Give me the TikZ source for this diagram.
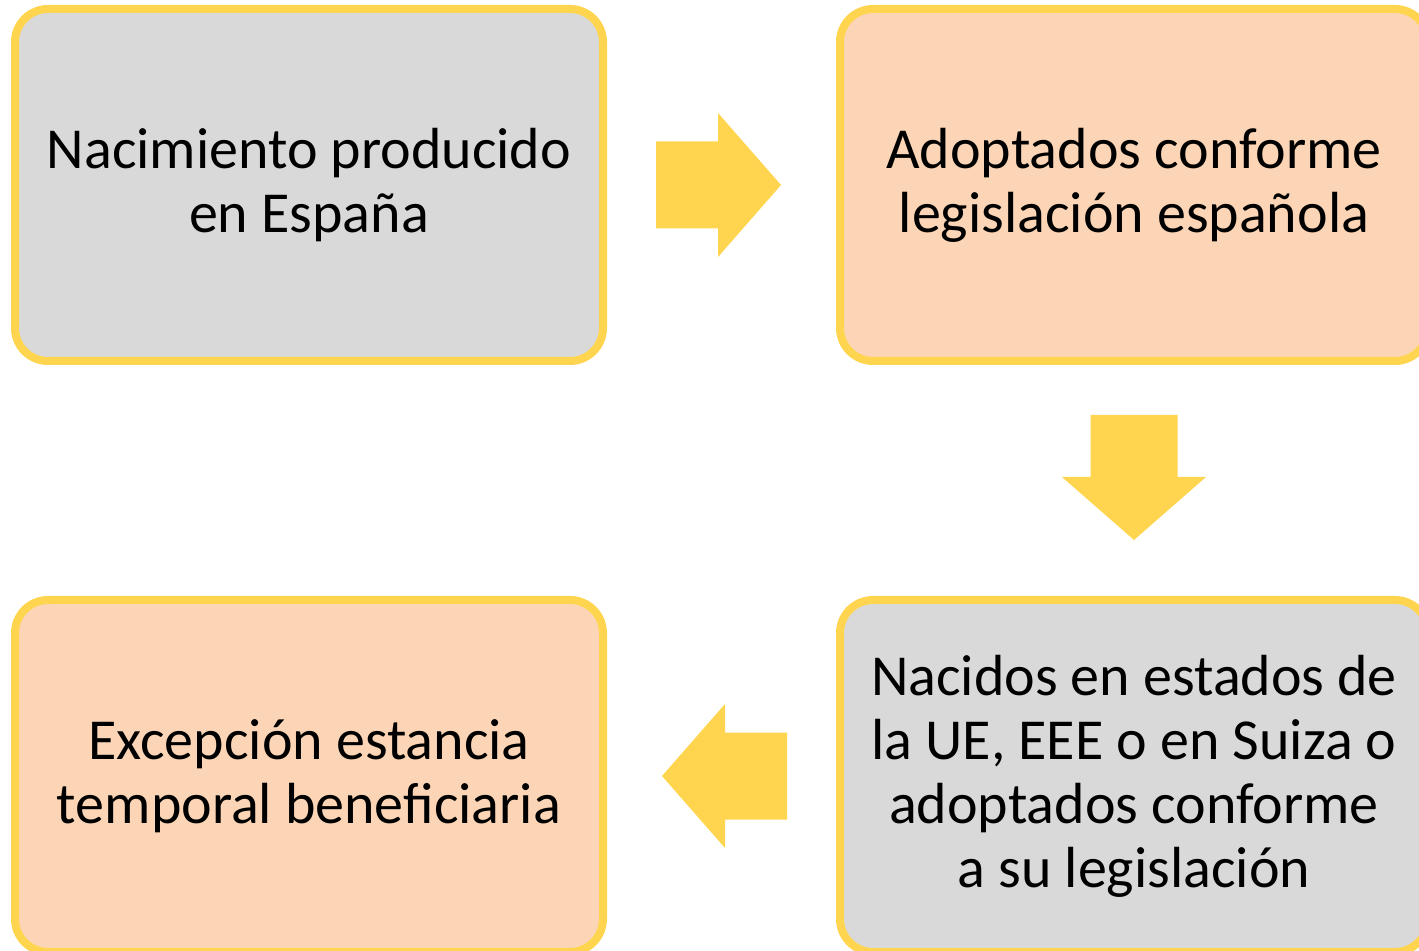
\documentclass[tikz,border=0pt]{standalone}
\usepackage{fontspec}
\setmainfont{Carlito}
\usetikzlibrary{positioning,calc}
\definecolor{boxborder}{HTML}{FFD54F}
\definecolor{boxgray}{HTML}{D9D9D9}
\definecolor{boxpeach}{HTML}{FBD5B5}
\tikzset{
  stagebox/.style={rectangle, rounded corners=16.5pt, draw=boxborder, line width=4pt,
    minimum width=294pt, minimum height=176pt, outer sep=0pt, align=center,
    font=\fontsize{29}{32}\selectfont},
  graybox/.style={stagebox, fill=boxgray},
  peachbox/.style={stagebox, fill=boxpeach},
  blockarrow/.pic={\fill[boxborder] (-65.5,-43.5) -- (-3.5,-43.5) -- (-3.5,-72) -- (59.5,0)
    -- (-3.5,72) -- (-3.5,43.5) -- (-65.5,43.5) -- cycle;}
}
\begin{document}
\begin{tikzpicture}[x=0.5pt, y=-0.5pt, node distance=119.5pt and 118.5pt]
        \clip (0,0) rectangle (1419,951);
        \node[graybox] (nac) at (309,185) {Nacimiento producido\\en España};
        \node[peachbox, right=of nac] (adop) {Adoptados conforme\\legislación española};
        \node[graybox, below=of adop] (ue) {Nacidos en estados de\\la UE, EEE o en Suiza o\\adoptados conforme\\a su legislación};
        \node[peachbox, left=of ue] (exc) {Excepción estancia\\temporal beneficiaria};

        % block arrows between the boxes
        \pic at ($(nac.east)!0.5!(adop.west)$) {blockarrow};
        \pic[rotate=-90] at ($(adop.south)!0.5!(ue.north)$) {blockarrow};
        \pic[rotate=180] at ($(ue.west)!0.5!(exc.east)$) {blockarrow};
\end{tikzpicture}
\end{document}
